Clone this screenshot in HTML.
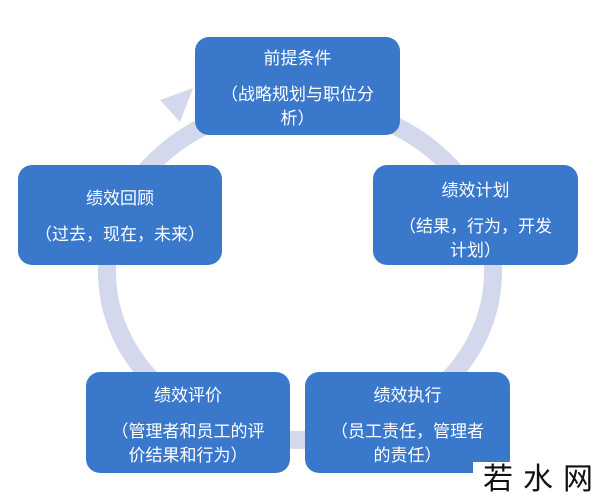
<!DOCTYPE html>
<html><head><meta charset="utf-8"><style>
body{margin:0;width:600px;height:503px;background:#fff;position:relative;overflow:hidden;font-family:"Liberation Sans","Noto Sans CJK SC",sans-serif;}
.b{position:absolute;background:#3a78cc;border-radius:14px;color:#fff;text-align:center;font-size:17px;line-height:24px;box-sizing:border-box;padding-top:10px}
.b p{margin:0}
.b .t{margin-bottom:12px}
</style></head><body>
<svg width="600" height="503" style="position:absolute;left:0;top:0">
<ellipse cx="300" cy="272" rx="193" ry="168" fill="none" stroke="#d3d8ec" stroke-width="18"/>
<polygon points="160,100 193,88 180,122" fill="#d3d8ec"/>
</svg>
<div class="b" style="left:195px;top:37px;width:205px;height:98px"><p class="t">前提条件</p><p>（战略规划与职位分<br>析）</p></div>
<div class="b" style="left:373px;top:165px;width:205px;height:100px;padding-top:14px"><p class="t">绩效计划</p><p>（结果，行为，开发<br>计划）</p></div>
<div class="b" style="left:18px;top:165px;width:204px;height:100px;padding-top:22px"><p class="t">绩效回顾</p><p>（过去，现在，未来）</p></div>
<div class="b" style="left:86px;top:372px;width:204px;height:101px;padding-top:12px"><p class="t">绩效评价</p><p>（管理者和员工的评<br>价结果和行为）</p></div>
<div class="b" style="left:305px;top:372px;width:205px;height:101px;padding-top:12px"><p class="t">绩效执行</p><p>（员工责任，管理者<br>的责任）</p></div>
<div style="position:absolute;left:473px;top:462px;width:127px;height:41px;background:#fff;font-size:30px;line-height:36px;color:#111;padding-left:10px;letter-spacing:10px">若水网</div>
</body></html>
